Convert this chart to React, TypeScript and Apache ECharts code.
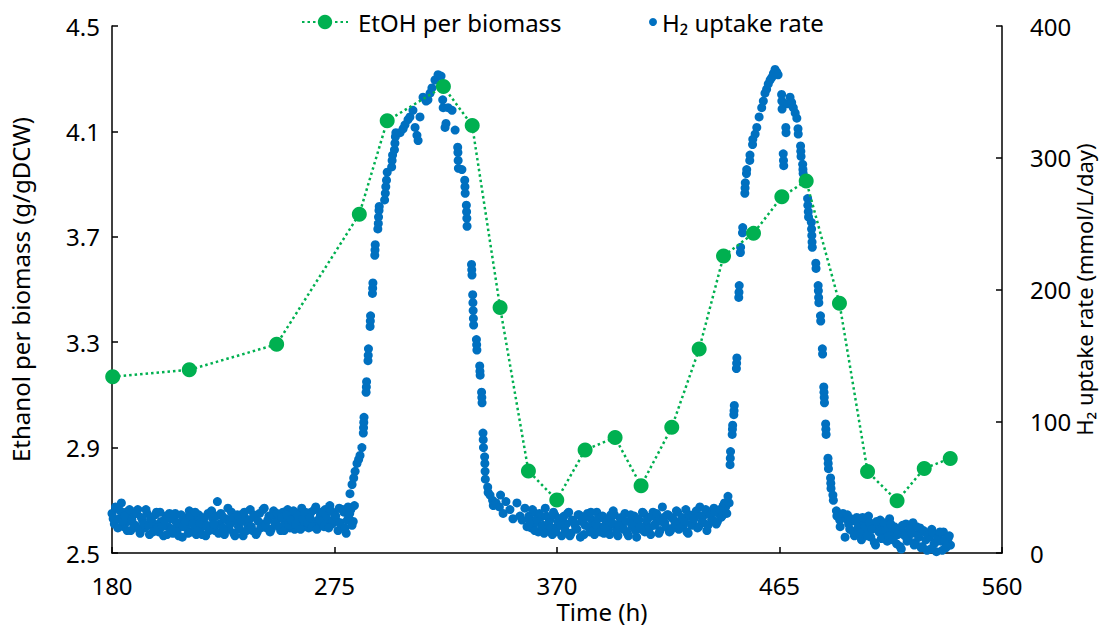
import React, { useEffect, useRef } from "react";
import * as echarts from "echarts";

// ---------- Data ----------
const xTicks = [180, 275, 370, 465, 560];
const leftTicks = [2.5, 2.9, 3.3, 3.7, 4.1, 4.5];

// EtOH per biomass (g/gDCW): [time h, value]
const etohTimes = [180.3, 213, 250.3, 285.6, 297.5, 321.5, 333.8, 345.7, 357.8, 369.9, 382, 394.8, 405.9, 419, 430.7, 441.1, 453.9, 466, 476.4, 490.6, 502.6, 515.2, 526.8, 537.9];
const etohValues = [3.169, 3.195, 3.292, 3.786, 4.14, 4.27, 4.122, 3.432, 2.811, 2.701, 2.891, 2.938, 2.755, 2.977, 3.274, 3.627, 3.713, 3.852, 3.912, 3.448, 2.809, 2.698, 2.821, 2.859];

// H2 uptake rate (mmol/L/day) — baseline readings on the hour and on the half hour
const h2Base1Start = 180;
const h2Base1 = [30, 22, 34, 26, 38, 20, 31, 24, 17, 29, 21, 33, 15, 25, 19, 30, 14, 27, 22, 31, 16, 24, 13, 28, 20, 26, 15, 30, 18, 23, 12, 27, 21, 32, 16, 25, 14, 29, 19, 24, 13, 30, 20, 26, 17, 39, 22, 28, 14, 25, 18, 31, 15, 24, 20, 29, 13, 26, 21, 33, 17, 27, 16, 30, 22, 34, 19, 28, 18, 32, 21, 26, 17, 31, 23, 33, 19, 27, 18, 30, 22, 34, 20, 28, 19, 31, 24, 35, 21, 29, 23, 33, 25, 36, 22, 30, 24, 34, 20, 31, 15, 27, 33, 24];
const h2Base1HalfStart = 180.5;
const h2Base1Half = [26, 35, 19, 32, 24, 28, 17, 33, 25, 20, 30, 18, 27, 22, 33, 21, 26, 16, 29, 19, 31, 20, 25, 14, 30, 18, 27, 23, 13, 29, 20, 24, 15, 28, 22, 31, 19, 23, 14, 27, 21, 17, 32, 22, 28, 15, 30, 19, 26, 34, 22, 27, 13, 29, 18, 24, 31, 17, 25, 20, 29, 14, 24, 19, 33, 21, 25, 16, 29, 23, 30, 20, 27, 17, 29, 21, 25, 32, 22, 28, 18, 26, 31, 23, 27, 20, 33, 18, 26, 31, 20, 28, 19, 32, 25, 28, 17, 23, 33, 19, 25, 30, 21, 36];

const h2Peak1: [number, number][] = [
  [280.8, 35], [281.6, 45], [282.5, 52], [283.2, 57], [283.8, 62], [284.6, 68], [285.3, 71], [285.9, 74], [286.7, 80],
  [287.3, 91], [287.4, 95], [287.5, 99], [287.6, 103],
  [288.5, 122], [288.6, 126], [288.7, 130],
  [289.3, 146], [289.4, 150], [289.5, 155],
  [290.2, 172], [290.3, 176], [290.4, 180],
  [291.2, 197], [291.3, 201], [291.4, 205],
  [292.2, 226], [292.3, 230], [292.4, 234],
  [293.5, 246], [293.7, 250], [293.8, 255], [294.0, 260], [294.1, 263],
  [296.4, 268], [296.7, 273], [296.9, 278], [297.2, 283], [297.5, 289],
  [299.4, 293], [299.6, 298], [299.8, 302],
  [300.6, 306], [300.8, 311], [301.0, 316], [301.2, 319],
  [303, 319], [304.3, 322], [305.1, 325], [306.4, 329], [307.2, 331], [308.5, 336], [309.4, 323], [310.2, 317], [310.7, 313],
  [311.5, 331], [312.8, 346], [314.1, 343], [314.9, 344], [315.8, 349], [316.6, 353], [317.9, 359], [319.2, 363], [320.5, 362],
  [321.2, 344], [321.4, 338], [322.2, 323], [322.6, 326], [323.5, 338], [325.2, 336], [326.5, 321],
  [327.6, 308], [327.7, 304], [327.8, 298], [327.9, 292], [329.4, 291],
  [330.6, 283], [330.7, 278], [330.8, 273],
  [331.3, 264], [331.4, 259], [331.5, 254], [331.6, 248],
  [333.5, 219], [333.6, 215], [333.7, 211],
  [334.0, 196], [334.1, 190], [334.2, 184], [334.3, 178], [334.4, 173],
  [335.6, 162], [335.7, 158], [335.8, 154],
  [337.0, 142], [337.1, 138], [337.2, 135],
  [337.8, 122], [337.9, 118], [338.0, 114],
  [338.4, 91], [338.5, 86], [338.6, 80],
  [339.1, 73], [339.2, 68], [339.3, 62], [339.4, 56],
  [340.4, 50], [340.6, 46], [341.4, 44], [342.5, 40], [342.8, 36], [344, 38], [345.4, 35], [345.9, 44],
  [347, 30], [348.2, 39], [349.9, 33], [351.2, 26], [352.9, 38], [354.2, 28], [355.1, 25], [356.3, 34], [357.2, 20],
];

const h2Base2Start = 358;
const h2Base2 = [28, 19, 31, 23, 16, 27, 21, 34, 18, 25, 14, 29, 20, 26, 13, 28, 22, 31, 15, 24, 19, 29, 12, 26, 21, 30, 16, 25, 14, 31, 20, 27, 15, 23, 18, 29, 32, 21, 13, 26, 19, 30, 15, 24, 20, 28, 12, 25, 18, 30, 21, 27, 14, 31, 22, 26, 17, 35, 23, 29, 16, 27, 20, 32, 18, 25, 21, 33, 15, 28, 23, 30, 19, 35, 24, 29, 17, 31, 25, 34, 22, 30, 27, 36, 35, 43];
const h2Base2HalfStart = 358.5;
const h2Base2Half = [24, 33, 17, 26, 30, 20, 15, 28, 23, 19, 31, 16, 24, 21, 27, 17, 30, 13, 25, 22, 18, 29, 24, 14, 27, 20, 31, 17, 22, 26, 16, 28, 19, 25, 14, 23, 29, 17, 21, 27, 18, 24, 13, 29, 22, 17, 26, 20, 31, 16, 25, 19, 28, 21, 30, 15, 24, 27, 20, 29, 17, 26, 22, 31, 19, 27, 24, 16, 29, 21, 26, 32, 20, 28, 23, 33, 21, 29, 25, 31, 24, 33, 28, 38, 30];

const h2Peak2: [number, number][] = [
  [443.5, 38], [443.9, 67], [444.0, 72], [444.1, 77],
  [444.8, 90], [444.9, 94], [445.0, 97],
  [445.5, 105], [445.6, 108], [445.7, 112],
  [446.6, 140], [446.7, 144], [446.8, 148],
  [447.6, 194], [447.7, 198], [447.8, 203],
  [448.3, 228], [448.4, 232],
  [449.2, 243], [449.3, 247],
  [450.2, 273], [450.3, 277], [450.4, 281],
  [450.9, 288], [451.0, 291],
  [452.3, 298], [452.4, 302],
  [453.5, 310], [453.6, 314],
  [454.6, 318], [455.3, 323], [456.3, 331], [457.4, 338], [458.1, 343], [458.8, 349], [459.5, 352], [460.2, 356],
  [461.0, 359], [461.7, 361], [462.4, 364], [463.1, 367], [463.8, 365], [464.4, 363],
  [465.9, 348], [466.0, 343], [466.1, 337],
  [466.6, 303], [466.7, 298], [466.8, 294],
  [467.7, 323], [467.8, 319],
  [468.6, 341], [469.5, 346], [470.2, 342], [470.9, 338], [471.7, 334], [472.4, 330],
  [472.9, 322], [473.0, 318],
  [474.0, 309], [474.1, 305], [474.2, 301],
  [474.9, 295], [475.0, 291], [475.1, 288],
  [477.0, 269], [477.1, 264], [477.3, 259], [477.4, 255],
  [478.6, 251], [478.7, 246], [478.8, 241], [478.9, 236], [479.0, 232],
  [480.5, 220], [480.6, 216],
  [481.5, 203], [481.6, 199], [481.7, 194], [481.8, 190],
  [482.5, 180], [482.6, 176],
  [483.3, 155], [483.4, 151],
  [483.9, 126], [484.0, 122], [484.1, 118], [484.2, 114],
  [484.7, 98], [484.8, 94], [484.9, 90],
  [485.7, 72], [485.8, 68], [485.9, 64],
  [486.8, 57], [486.9, 53], [487.0, 49],
  [487.8, 44], [488.0, 40],
  [489.3, 32], [489.5, 28],
  [490.7, 25], [490.9, 20],
  [492.1, 30], [493.0, 12], [493.5, 26],
];

const h2Base3Start = 494;
const h2Base3 = [29, 18, 25, 13, 27, 21, 10, 24, 17, 28, 12, 22, 6, 19, 25, 14, 21, 9, 26, 16, 20, 7, 18, 3, 15, 22, 11, 17, 23, 8, 14, 19, 5, 16, 2, 12, 18, 7, 1, 14, 9, 16, 4, 11, 6];
const h2Base3HalfStart = 494.5;
const h2Base3Half = [22, 26, 16, 24, 19, 15, 27, 20, 13, 23, 18, 8, 24, 16, 11, 23, 17, 13, 22, 10, 19, 14, 5, 21, 13, 9, 18, 15, 6, 20, 12, 4, 17, 10, 14, 3, 15, 8, 11, 16, 2, 10, 5, 13];

// ---------- Helpers ----------
const hourly = (start: number, vals: number[]): [number, number][] =>
  vals.map((v, i) => [start + i, v]);

const FONT = "Noto Sans";
const GREEN = "#00B050";
const BLUE = "#0070C0";

export default function App() {
  const ref = useRef<HTMLDivElement>(null);

  useEffect(() => {
    if (!ref.current) return;
    const chart = echarts.init(ref.current, undefined, { renderer: "svg" });

    const etohData = etohTimes.map((t, i) => [t, etohValues[i]]);
    const h2Data = [
      ...hourly(h2Base1Start, h2Base1),
      ...hourly(h2Base1HalfStart, h2Base1Half),
      ...h2Peak1,
      ...hourly(h2Base2Start, h2Base2),
      ...hourly(h2Base2HalfStart, h2Base2Half),
      ...h2Peak2,
      ...hourly(h2Base3Start, h2Base3),
      ...hourly(h2Base3HalfStart, h2Base3Half),
    ];

    const axisLine = { show: true, lineStyle: { color: "#000", width: 1.5 } };
    const labelStyle = { color: "#000", fontFamily: FONT, fontSize: 24 };

    chart.setOption({
      animation: false,
      backgroundColor: "#fff",
      textStyle: { fontFamily: FONT },
      grid: { left: 112, right: 103, top: 26, bottom: 76, containLabel: false, outerBoundsMode: "none" },
      legend: [
        {
          data: ["EtOH per biomass"],
          left: 296,
          top: 5,
          itemWidth: 46,
          itemHeight: 18,
          textStyle: { ...labelStyle, padding: [0, 0, 0, 5] },
        },
        {
          data: ["H₂ uptake rate"],
          left: 644,
          top: 5,
          itemWidth: 8,
          itemHeight: 8,
          textStyle: { ...labelStyle },
          icon: "circle",
        },
      ],
      xAxis: {
        type: "value",
        min: 180,
        max: 560,
        name: "Time (h)",
        nameLocation: "middle",
        nameGap: 46,
        nameMoveOverlap: false,
        nameTextStyle: { ...labelStyle, lineHeight: 24, padding: [0, 0, 0, 90] },
        axisLine,
        axisTick: { show: true, inside: true, length: 6, customValues: xTicks, lineStyle: { color: "#000", width: 1.5 } },
        axisLabel: { ...labelStyle, lineHeight: 24, margin: 20, customValues: xTicks },
        splitLine: { show: false },
      },
      yAxis: [
        {
          type: "value",
          min: 2.5,
          max: 4.5,
          position: "left",
          name: "Ethanol per biomass (g/gDCW)",
          nameLocation: "middle",
          nameRotate: 90,
          nameGap: 80,
          nameMoveOverlap: false,
          nameTextStyle: { ...labelStyle },
          axisLine,
          axisTick: { show: true, inside: true, length: 6, customValues: leftTicks, lineStyle: { color: "#000", width: 1.5 } },
          axisLabel: { ...labelStyle, margin: 12, customValues: leftTicks, formatter: (v: number) => v.toFixed(1) },
          splitLine: { show: false },
        },
        {
          type: "value",
          min: 0,
          max: 400,
          interval: 100,
          position: "right",
          name: "H₂ uptake rate (mmol/L/day)",
          nameLocation: "middle",
          nameRotate: 90,
          nameGap: 71,
          nameMoveOverlap: false,
          nameTextStyle: { ...labelStyle, fontSize: 22 },
          axisLine,
          axisTick: { show: true, inside: true, length: 6, lineStyle: { color: "#000", width: 1.5 } },
          axisLabel: { ...labelStyle, margin: 28 },
          splitLine: { show: false },
        },
      ],
      series: [
        {
          name: "H₂ uptake rate",
          type: "scatter",
          yAxisIndex: 1,
          data: h2Data,
          symbol: "circle",
          symbolSize: 9,
          itemStyle: { color: BLUE, opacity: 1 },
          z: 2,
        },
        {
          name: "EtOH per biomass",
          type: "line",
          yAxisIndex: 0,
          data: etohData,
          symbol: "circle",
          symbolSize: 15,
          showSymbol: true,
          itemStyle: { color: GREEN },
          lineStyle: { color: GREEN, width: 2.5, type: [2.5, 3] },
          z: 3,
        },
      ],
    });

    return () => chart.dispose();
  }, []);

  return (
    <div
      ref={ref}
      style={{ position: "fixed", left: 0, top: 0, width: 1105, height: 629, background: "#fff" }}
    />
  );
}
